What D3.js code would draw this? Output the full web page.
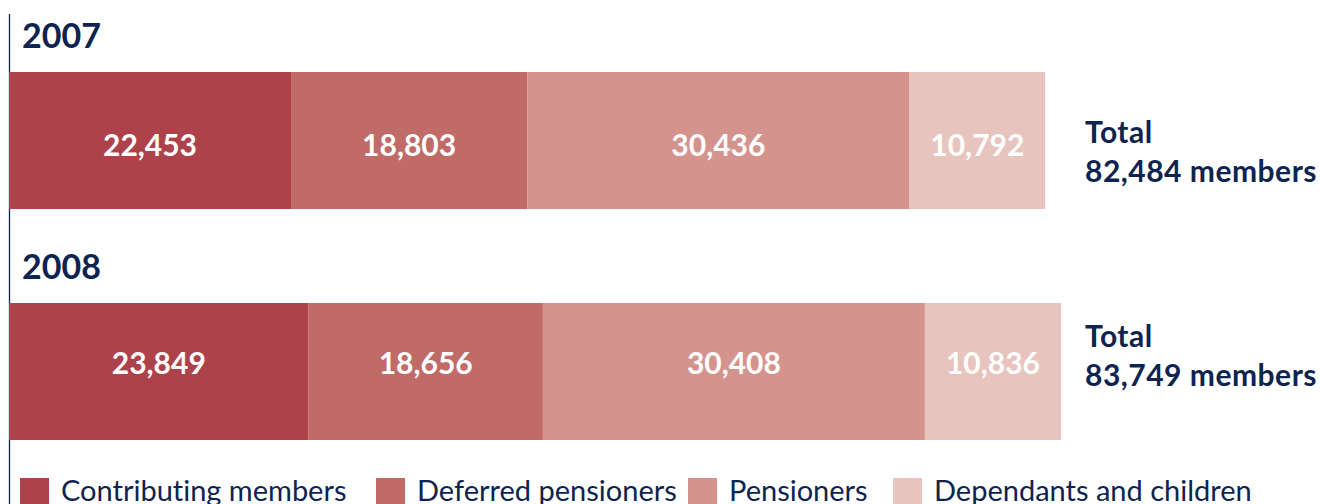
<!DOCTYPE html>
<html><head><meta charset="utf-8">
<script src="https://cdn.jsdelivr.net/npm/d3@7"></script>
<style>body{margin:0;background:#fff;}svg{display:block;font-family:Lato,"Open Sans",sans-serif;font-variant-ligatures:none;}</style>
</head><body><svg id="c" width="1320" height="504"></svg>
<script>
const years = ["2007", "2008"];
const categories = ["Contributing members", "Deferred pensioners", "Pensioners", "Dependants and children"];
const contributing = [22453, 23849];
const deferred = [18803, 18656];
const pensioners = [30436, 30408];
const dependants = [10792, 10836];
const totals = [82484, 83749];
const colors = ["#ae424b", "#c06b67", "#d4938d", "#e7c4bd"];
const navy = "#0d2450";

// layout (per row label offsets relative to bar centre)
const layout = {
  valueBase: [15.5, 2],
  totalBase: [2.5, -24.5],
  lineGap: 39
};

const svg = d3.select("#c");
const series = [contributing, deferred, pensioners, dependants];
const rows = years.map((y, i) => {
  const r = {year: y};
  categories.forEach((c, k) => r[c] = series[k][i]);
  return r;
});
const stack = d3.stack().keys(categories)(rows);
const x = d3.scaleLinear().domain([0, d3.max(totals)]).range([9, 1061]);
const y = d3.scaleBand().domain(years).range([72, 440]).paddingInner(0.407).paddingOuter(0);
const fmt = d3.format(",");
const idx = yr => years.indexOf(yr);

// axis line
svg.append("line").attr("x1", 9.5).attr("x2", 9.5).attr("y1", 14).attr("y2", 504)
  .attr("stroke", navy).attr("stroke-width", 1.3);

stack.forEach((s, k) => {
  const g = svg.append("g");
  g.selectAll("rect").data(s).join("rect")
    .attr("x", d => x(d[0])).attr("width", d => x(d[1]) - x(d[0]))
    .attr("y", d => y(d.data.year)).attr("height", y.bandwidth())
    .attr("fill", colors[k]);
  g.selectAll("text").data(s).join("text")
    .attr("x", d => (x(d[0]) + x(d[1])) / 2)
    .attr("y", d => y(d.data.year) + y.bandwidth() / 2 + layout.valueBase[idx(d.data.year)])
    .attr("text-anchor", "middle")
    .attr("fill", "#fff").attr("font-weight", 700).attr("font-size", 30)
    .text(d => fmt(d[1] - d[0]));
});

years.forEach((yr, i) => {
  svg.append("text").attr("x", 22).attr("y", y(yr) - 24)
    .attr("fill", navy).attr("font-weight", 700).attr("font-size", 34).text(yr);
  const cy = y(yr) + y.bandwidth() / 2;
  const b = cy + layout.totalBase[i];
  svg.append("text").attr("x", 1085).attr("y", b)
    .attr("fill", navy).attr("font-weight", 700).attr("font-size", 30).attr("letter-spacing", 0.5).text("Total");
  svg.append("text").attr("x", 1085).attr("y", b + layout.lineGap)
    .attr("fill", navy).attr("font-weight", 700).attr("font-size", 30).attr("letter-spacing", 0.5).text(fmt(totals[i]) + " members");
});

// legend
const legX = [20, 376, 688, 893];
categories.forEach((c, k) => {
  svg.append("rect").attr("x", legX[k]).attr("y", 478).attr("width", 29).attr("height", 29).attr("fill", colors[k]);
  svg.append("text").attr("x", legX[k] + 41).attr("y", 501)
    .attr("fill", navy).attr("font-size", 29).text(c);
});
</script></body></html>
